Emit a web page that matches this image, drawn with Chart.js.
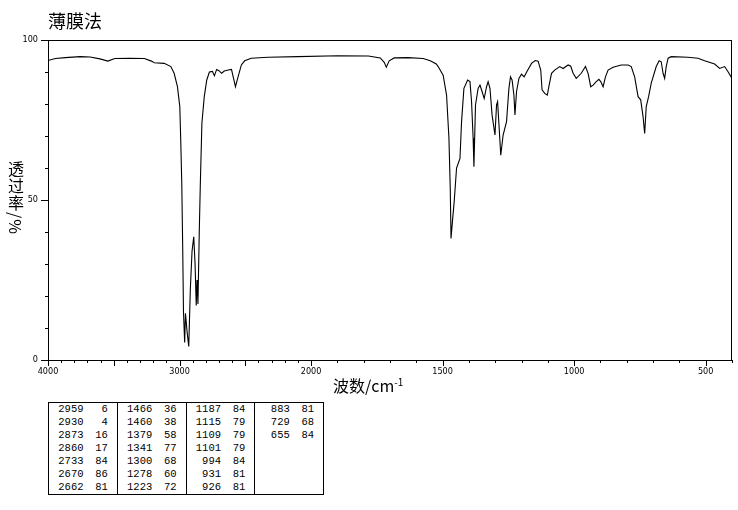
<!DOCTYPE html>
<html>
<head>
<meta charset="utf-8">
<script src="https://cdn.jsdelivr.net/npm/chart.js@4.4.1/dist/chart.umd.min.js"></script>
<style>
  body { margin: 0; background: #fff; }
  #page { position: relative; width: 738px; height: 510px; overflow: hidden; font-family: "Noto Sans CJK SC", sans-serif; color: #000; }
  #wrap { position: absolute; left: 0; top: 0; width: 738px; height: 380px; }
  .title { position: absolute; left: 48px; top: 9px; font-size: 18px; line-height: 22px; }
  .ylab { position: absolute; left: 7px; top: 161px; writing-mode: vertical-rl; font-size: 16px; line-height: 18px; letter-spacing: 1px; }
  .xlab { position: absolute; left: 333px; top: 375px; font-size: 16px; line-height: 20px; }
  .xlab sup { font-size: 10px; vertical-align: 6px; line-height: 0; }
  #peaks { position: absolute; left: 48px; top: 402px; border-collapse: collapse; border: 1px solid #000; table-layout: fixed; width: 275px;
           font-family: "Liberation Mono", "DejaVu Sans Mono", monospace; font-size: 10.5px; }
  #peaks td { padding: 0; height: 13px; line-height: 13px; text-align: right; white-space: nowrap; }
  #peaks td.t { padding-right: 9px; }
  #peaks td.sep { border-left: 1px solid #000; }
</style>
</head>
<body>
<div id="page">
  <div id="wrap"><canvas id="ir" width="738" height="380"></canvas></div>
  <div class="title">薄膜法</div>
  <div class="ylab">透过率/%</div>
  <div class="xlab">波数/cm<sup>-1</sup></div>
  <table id="peaks">
    <colgroup>
      <col style="width:35px"><col style="width:33.75px">
      <col style="width:35px"><col style="width:33.75px">
      <col style="width:35px"><col style="width:33.75px">
      <col style="width:35px"><col style="width:33.75px">
    </colgroup>
    <tbody></tbody>
  </table>
</div>
<script>
// spectrum (cm-1, %T)
const wavenumbers = [
  4000, 3944, 3868, 3756, 3680, 3605, 3545, 3492, 3380, 3267, 3214, 3192, 3117, 3066, 3041, 3016,
  2998, 2991, 2983, 2976, 2970, 2961, 2955, 2943, 2930, 2918, 2905, 2892, 2882, 2873, 2867, 2860,
  2850, 2842, 2830, 2812, 2793, 2773, 2750, 2735, 2718, 2700, 2680, 2660, 2630, 2605, 2592, 2575,
  2555, 2530, 2505, 2455, 2327, 2100, 1897, 1782, 1737, 1722, 1714, 1703, 1684, 1631, 1574, 1547,
  1524, 1517, 1498, 1485, 1476, 1471, 1468, 1463, 1456, 1447, 1434, 1428, 1419, 1405, 1396, 1390,
  1384, 1381, 1375, 1365, 1358, 1350, 1342, 1333, 1327, 1320, 1312, 1301, 1295, 1291, 1285, 1279,
  1270, 1257, 1248, 1242, 1236, 1229, 1225, 1219, 1210, 1200, 1190, 1180, 1162, 1148, 1137, 1127,
  1122, 1112, 1102, 1096, 1086, 1074, 1055, 1042, 1023, 1013, 1004, 992, 973, 957, 947, 937,
  928, 916, 906, 899, 890, 881, 871, 852, 821, 795, 783, 770, 757, 747, 738, 732,
  726, 717, 707, 688, 677, 669, 662, 656, 650, 643, 631, 568, 529, 504, 466, 447,
  428, 415, 400
];
const transmittance = [
  93.6, 94.2, 94.5, 94.8, 94.7, 94.1, 93.4, 94.2, 94.3, 94.2, 93.4, 92.9, 92.7, 91.7, 89.6, 85.4,
  79.2, 68.8, 55.2, 35.4, 15.0, 5.5, 14.6, 9.0, 4.2, 22.0, 34.0, 38.5, 30.0, 17.0, 25.0, 17.5,
  40.0, 55.0, 74.0, 82.3, 87.5, 90.0, 90.2, 88.8, 90.8, 90.4, 89.6, 90.3, 90.6, 90.8, 88.5, 85.4,
  88.5, 92.2, 93.5, 94.3, 94.6, 94.8, 95.1, 95.0, 94.4, 93.0, 91.5, 93.5, 94.4, 94.5, 94.2, 93.5,
  92.5, 91.7, 89.0, 82.8, 69.4, 53.7, 38.0, 43.0, 49.5, 60.0, 63.0, 74.5, 84.9, 87.5, 87.0, 80.7,
  69.3, 60.4, 79.7, 84.9, 85.9, 83.9, 81.7, 85.4, 87.0, 84.9, 76.6, 70.3, 79.7, 80.7, 72.4, 64.0,
  70.3, 74.5, 84.9, 88.5, 87.5, 82.8, 76.6, 83.9, 88.0, 89.3, 88.5, 90.1, 92.7, 93.6, 93.4, 90.6,
  84.4, 83.3, 82.8, 85.5, 89.6, 90.6, 91.7, 91.1, 92.2, 91.8, 89.6, 88.0, 89.6, 91.7, 89.6, 85.4,
  85.9, 87.0, 87.7, 87.0, 85.4, 88.5, 90.6, 91.5, 92.2, 92.2, 91.7, 88.5, 82.3, 81.3, 76.0, 70.8,
  79.2, 82.3, 86.5, 91.7, 93.5, 93.2, 89.6, 88.0, 91.7, 94.3, 94.8, 94.6, 94.3, 93.5, 92.5, 91.1,
  91.7, 90.1, 88.0
];

// peak table
const peakWn = [2959, 2930, 2873, 2860, 2733, 2670, 2662,
                1466, 1460, 1379, 1341, 1300, 1278, 1223,
                1187, 1115, 1109, 1101, 994, 931, 926,
                883, 729, 655];
const peakT = [6, 4, 16, 17, 84, 86, 81,
               36, 38, 58, 77, 68, 60, 72,
               84, 79, 79, 79, 84, 81, 81,
               81, 68, 84];

const xTickLabels = [4000, 3000, 2000, 1500, 1000, 500];
const yTickLabels = [0, 50, 100];

// axis is compressed 2:1 above 2000 cm-1
function toAxis(wn) {
  return wn >= 2000 ? (4000 - wn) / 2 : 1000 + (2000 - wn);
}
function fromAxis(p) {
  return p <= 1000 ? 4000 - 2 * p : 2000 - (p - 1000);
}

const tickWn = [];
for (let w = 4000; w >= 400; w -= 100) tickWn.push(w);

const tickFont = { family: "'Liberation Sans Narrow', 'DejaVu Sans Condensed', sans-serif", size: 9 };

const frame = {
  id: "frame",
  afterDraw(chart) {
    const { ctx, chartArea: a, scales: { x, y } } = chart;
    ctx.save();
    ctx.strokeStyle = "#000";
    ctx.lineWidth = 1;
    ctx.strokeRect(a.left + 0.5, a.top + 0.5, a.right - a.left - 1, a.bottom - a.top);
    ctx.beginPath();
    x.ticks.forEach((t) => {
      const px = Math.round(x.getPixelForValue(t.value)) + 0.5;
      const len = Math.round(fromAxis(t.value)) % 500 === 0 ? 6 : 3;
      ctx.moveTo(px, a.bottom);
      ctx.lineTo(px, a.bottom + len);
    });
    y.ticks.forEach((t) => {
      const py = Math.round(y.getPixelForValue(t.value)) + 0.5;
      const len = yTickLabels.includes(t.value) ? 7 : 3;
      ctx.moveTo(a.left - len, py);
      ctx.lineTo(a.left, py);
    });
    ctx.stroke();
    ctx.restore();
  },
};

new Chart(document.getElementById("ir"), {
  type: "line",
  data: {
    datasets: [
      {
        data: wavenumbers.map((w, i) => ({ x: toAxis(w), y: transmittance[i] })),
        borderColor: "#000",
        borderWidth: 1.1,
        pointRadius: 0,
        tension: 0,
        fill: false,
      },
    ],
  },
  options: {
    responsive: false,
    animation: false,
    devicePixelRatio: 1,
    layout: { padding: { top: 40, right: 5, left: 0, bottom: 0 } },
    plugins: { legend: { display: false }, tooltip: { enabled: false } },
    scales: {
      x: {
        type: "linear",
        min: 0,
        max: toAxis(400),
        grid: { display: false, drawTicks: false },
        border: { display: false },
        afterBuildTicks: (scale) => {
          scale.ticks = tickWn.map((w) => ({ value: toAxis(w) }));
        },
        afterFit: (scale) => {
          scale.height = 20;
        },
        ticks: {
          autoSkip: false,
          maxRotation: 0,
          padding: 6,
          color: "#000",
          font: tickFont,
          callback: (v) => {
            const w = Math.round(fromAxis(v));
            return xTickLabels.includes(w) ? String(w) : "";
          },
        },
      },
      y: {
        min: 0,
        max: 100,
        grid: { display: false, drawTicks: false },
        border: { display: false },
        afterFit: (scale) => {
          scale.width = 48;
        },
        ticks: {
          stepSize: 10,
          padding: 10,
          color: "#000",
          font: tickFont,
          callback: (v) => (yTickLabels.includes(v) ? String(v) : ""),
        },
      },
    },
  },
  plugins: [frame],
});

// peak list, 7 rows per column group
const tbody = document.querySelector("#peaks tbody");
for (let r = 0; r < 7; r++) {
  const tr = document.createElement("tr");
  for (let g = 0; g < 4; g++) {
    const i = g * 7 + r;
    const a = document.createElement("td");
    const b = document.createElement("td");
    a.className = g ? "sep" : "";
    b.className = "t";
    if (i < peakWn.length) {
      a.textContent = peakWn[i];
      b.textContent = peakT[i];
    }
    tr.append(a, b);
  }
  tbody.append(tr);
}
</script>
</body>
</html>
